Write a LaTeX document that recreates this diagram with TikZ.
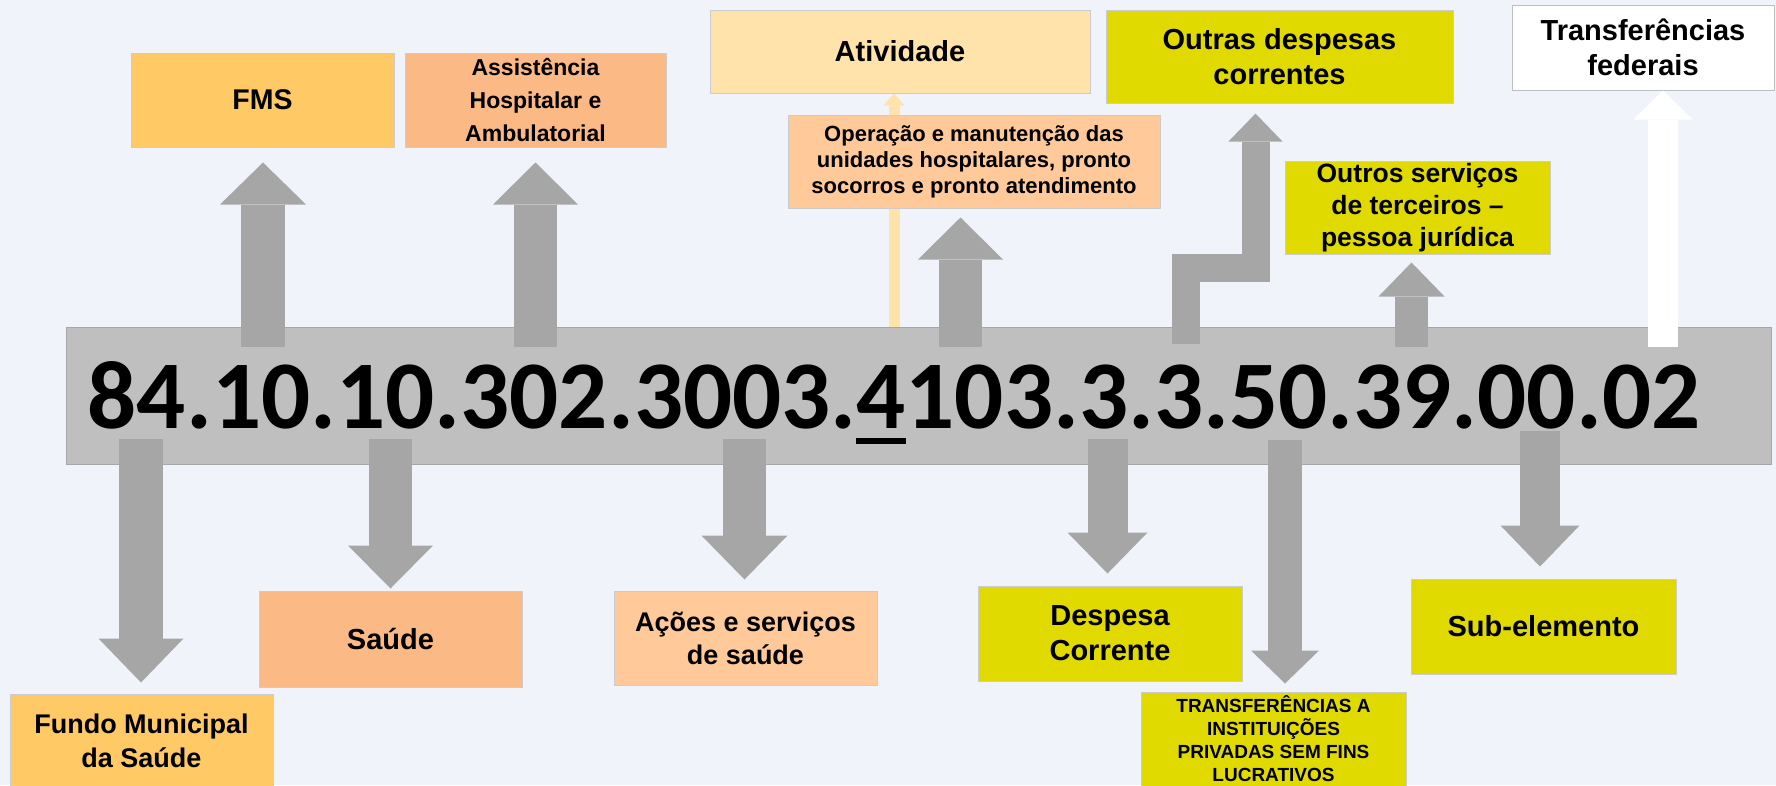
\documentclass[tikz,border=0pt]{standalone}
\usepackage{fontspec}
\usepackage{tikz}
\usepackage{xcolor}
\usetikzlibrary{arrows.meta}
\setmainfont{Liberation Sans}
\newfontfamily\numfont{Carlito}
\definecolor{bgblue}{HTML}{F0F4FA}
\definecolor{bargray}{HTML}{BFBFBF}
\definecolor{arrgray}{HTML}{A6A6A6}
\definecolor{fmsorange}{HTML}{FFCA66}
\definecolor{salmon}{HTML}{FAB985}
\definecolor{peach}{HTML}{FFC999}
\definecolor{cream}{HTML}{FFE3AB}
\definecolor{olive}{HTML}{E0DA00}
\newcommand\undl[1]{\setbox0\hbox{#1}\rlap{\rule[-16pt]{\wd0}{6pt}}\box0\relax}

\begin{document}
\begin{tikzpicture}%
  [x=1pt,y=-1pt,
   fs/.style 2 args={font=\bfseries\fontsize{#1}{#2}\selectfont},
   blk/.style n args={4}{draw=#1,line width=#2,
     -{Triangle[width=#3,length=#4,line width=0pt]}}]
  \tikzstyle{box node}=[rectangle,draw=black!20,line width=1pt,inner sep=0,align=center]
  \useasboundingbox (0,0) rectangle (1776,785);
  \fill[bgblue] (0,0) rectangle (1776,785);
  \node(bar)[draw=black!35,fill=bargray,inner sep=0,minimum width=1705pt,minimum height=137pt] at (918.5,395.5) {};
  \node(fms)[box node,fill=fmsorange,minimum width=263pt,minimum height=94pt,fs={28.5}{34}] at (262.5,100) {FMS};
  \node(assist)[box node,fill=salmon,minimum width=261pt,minimum height=94pt,fs={23}{33}] at (535.5,100) {Assistência\\Hospitalar e\\Ambulatorial};
  \node(ativ)[box node,fill=cream,minimum width=380pt,minimum height=83pt,fs={29}{35}] at (900,51.5) {Atividade};
  \node(outdesp)[box node,fill=olive,minimum width=347pt,minimum height=93pt,fs={29}{35}] at (1279.5,56.5) {Outras despesas\\correntes};
  \node(transfed)[box node,fill=white,draw=black!25,minimum width=262pt,minimum height=85pt,fs={29}{35}] at (1643,47.5) {Transferências\\federais};
  \node(outserv)[box node,fill=olive,minimum width=265pt,minimum height=93pt,fs={26.5}{32}] at (1417.5,207.5) {Outros serviços\\de terceiros –\\pessoa jurídica};
  \node(fundo)[box node,fill=fmsorange,minimum width=263pt,minimum height=94pt,fs={27}{34}] at (141.5,741) {Fundo Municipal\\da Saúde};
  \node(saude)[box node,fill=salmon,minimum width=263pt,minimum height=96pt,fs={29}{35}] at (390.5,639) {Saúde};
  \node(acoes)[box node,fill=peach,minimum width=263pt,minimum height=94pt,fs={27}{33}] at (745.5,638) {Ações e serviços\\de saúde};
  \node(despcor)[box node,fill=olive,minimum width=264pt,minimum height=95pt,fs={29}{35}] at (1110,633.5) {Despesa\\Corrente};
  \node(transinst)[box node,fill=olive,minimum width=265pt,minimum height=94pt,fs={19}{23}] at (1273.5,739) {TRANSFERÊNCIAS A\\INSTITUIÇÕES\\PRIVADAS SEM FINS\\LUCRATIVOS};
  \node(subel)[box node,fill=olive,minimum width=265pt,minimum height=95pt,fs={29}{35}] at (1543.5,626.5) {Sub-elemento};
  \coordinate (t0) at (894,327);
  \draw[blk={cream}{11pt}{21pt}{12pt}] (t0) -- (t0 |- ativ.south);
  \node(oper)[box node,fill=peach,minimum width=372pt,minimum height=93pt,fs={22}{26}] at (974,161.5) {Operação e manutenção das\\unidades hospitalares, pronto\\socorros e pronto atendimento};
  \coordinate (u1) at (263,347);
  \coordinate (u2) at (535.5,347);
  \coordinate (u3) at (960.5,347);
  \coordinate (u4) at (1411.5,347);
  \coordinate (u5) at (1663,347);
  \draw[blk={arrgray}{44pt}{86pt}{42pt},shorten >=15pt] (u1) -- (u1 |- fms.south);
  \draw[blk={arrgray}{43pt}{85pt}{42pt},shorten >=15pt] (u2) -- (u2 |- assist.south);
  \draw[blk={arrgray}{43pt}{85pt}{42pt},shorten >=9pt] (u3) -- (u3 |- oper.south);
  \draw[blk={arrgray}{33pt}{66pt}{34pt},shorten >=8pt] (u4) -- (u4 |- outserv.south);
  \draw[blk={white}{30pt}{59pt}{29pt}] (u5) -- (u5 |- transfed.south);
  \coordinate (s1) at (1185.5,344);
  \coordinate (s2) at (1255.5,267.5);
  \draw[blk={arrgray}{28pt}{54pt}{28pt},shorten >=10pt] (s1) |- (s2) -- (s2 |- outdesp.south);
  \coordinate (d1) at (141,439);
  \coordinate (d2) at (390.5,439);
  \coordinate (d3) at (744.5,439);
  \coordinate (d4) at (1107.5,439);
  \coordinate (d5) at (1285,440);
  \coordinate (d6) at (1540,431);
  \draw[blk={arrgray}{44pt}{85pt}{44pt},shorten >=11pt] (d1) -- (d1 |- fundo.north);
  \draw[blk={arrgray}{43pt}{85pt}{43pt},shorten >=2pt] (d2) -- (d2 |- saude.north);
  \draw[blk={arrgray}{43pt}{86pt}{44pt},shorten >=11pt] (d3) -- (d3 |- acoes.north);
  \draw[blk={arrgray}{40pt}{80pt}{41pt},shorten >=12pt] (d4) -- (d4 |- despcor.north);
  \draw[blk={arrgray}{34pt}{68pt}{33pt},shorten >=8pt] (d5) -- (d5 |- transinst.north);
  \draw[blk={arrgray}{40pt}{79pt}{41pt},shorten >=12pt] (d6) -- (d6 |- subel.north);
  \node(code)[anchor=base,inner sep=0,font=\numfont\bfseries\fontsize{97}{97}\selectfont] at (894,428) {84.10.10.302.3003.\undl{4}103.3.3.50.39.00.02};
\end{tikzpicture}
\end{document}
